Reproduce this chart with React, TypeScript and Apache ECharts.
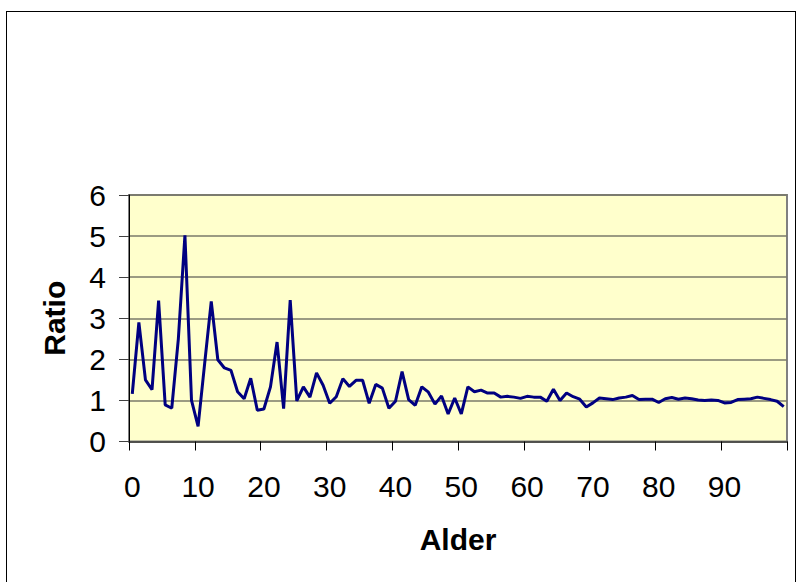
import React, { useEffect, useRef } from "react";
import * as echarts from "echarts";

const ages: string[] = Array.from({ length: 100 }, (_, i) => String(i));

const ratio: number[] = [
  1.16, 2.9, 1.5, 1.26, 3.43, 0.89, 0.81, 2.5, 5.02, 1.0,
  0.37, 1.9, 3.41, 1.99, 1.79, 1.73, 1.21, 1.04, 1.54, 0.76,
  0.79, 1.33, 2.42, 0.8, 3.44, 0.99, 1.33, 1.08, 1.67, 1.37,
  0.93, 1.09, 1.53, 1.34, 1.49, 1.49, 0.93, 1.39, 1.3, 0.81,
  0.98, 1.7, 1.02, 0.88, 1.33, 1.2, 0.91, 1.11, 0.67, 1.06,
  0.67, 1.33, 1.21, 1.25, 1.18, 1.18, 1.08, 1.1, 1.08, 1.05,
  1.1, 1.08, 1.08, 0.98, 1.27, 1.0, 1.18, 1.09, 1.03, 0.84,
  0.94, 1.06, 1.04, 1.02, 1.06, 1.08, 1.12, 1.02, 1.03, 1.03,
  0.95, 1.04, 1.07, 1.03, 1.06, 1.04, 1.01, 1.0, 1.01, 1.0,
  0.94, 0.95, 1.02, 1.03, 1.04, 1.08, 1.05, 1.02, 0.98, 0.85,
];

const xTitle = "Alder";
const yTitle = "Ratio";

export default function App() {
  const ref = useRef<HTMLDivElement>(null);

  useEffect(() => {
    if (!ref.current) return;
    const chart = echarts.init(ref.current, undefined, { renderer: "svg" });
    const font = "'Liberation Sans', Arial, sans-serif";
    const every10 = (i: number) => i % 10 === 0;
    chart.setOption({
      animation: false,
      grid: {
        left: 129,
        top: 195,
        width: 658,
        height: 246.5,
        show: true,
        backgroundColor: "#FFFFCC",
        borderColor: "#808080",
        borderWidth: 2,
      },
      xAxis: {
        type: "category",
        data: ages,
        boundaryGap: true,
        name: xTitle,
        nameLocation: "middle",
        nameGap: 83,
        nameTextStyle: { fontFamily: font, fontSize: 30, fontWeight: "bold", color: "#000" },
        axisLine: { show: true, lineStyle: { color: "#404040", width: 1.5 } },
        axisTick: { show: true, interval: every10, length: 9, alignWithLabel: false, lineStyle: { color: "#000", width: 1 } },
        axisLabel: {
          interval: every10,
          margin: 30,
          fontFamily: font,
          fontSize: 30,
          color: "#000",
          hideOverlap: false,
        },
        splitLine: { show: false },
      },
      yAxis: {
        type: "value",
        min: 0,
        max: 6,
        interval: 1,
        name: yTitle,
        nameLocation: "middle",
        nameGap: 60,
        nameTextStyle: { fontFamily: font, fontSize: 30, fontWeight: "bold", color: "#000" },
        axisLine: { show: true, lineStyle: { color: "#000", width: 1 } },
        axisTick: { show: true, length: 10, inside: false, lineStyle: { color: "#404040", width: 1 } },
        axisLabel: { margin: 23, fontFamily: font, fontSize: 30, color: "#000" },
        splitLine: { show: true, lineStyle: { color: "#7a7a6a", width: 1.5 } },
      },
      series: [
        {
          type: "line",
          data: ratio,
          symbol: "none",
          lineStyle: { color: "#000080", width: 3 },
          itemStyle: { color: "#000080" },
        },
      ],
    });
    return () => chart.dispose();
  }, []);

  return (
    <div style={{ position: "fixed", left: 0, top: 0, width: 800, height: 582, background: "#fff", overflow: "hidden" }}>
      <div
        style={{
          position: "absolute",
          left: 6,
          top: 11,
          width: 790,
          height: 600,
          border: "1px solid #000",
          boxSizing: "border-box",
        }}
      />
      <div ref={ref} style={{ position: "absolute", left: 0, top: 0, width: 800, height: 582 }} />
    </div>
  );
}
